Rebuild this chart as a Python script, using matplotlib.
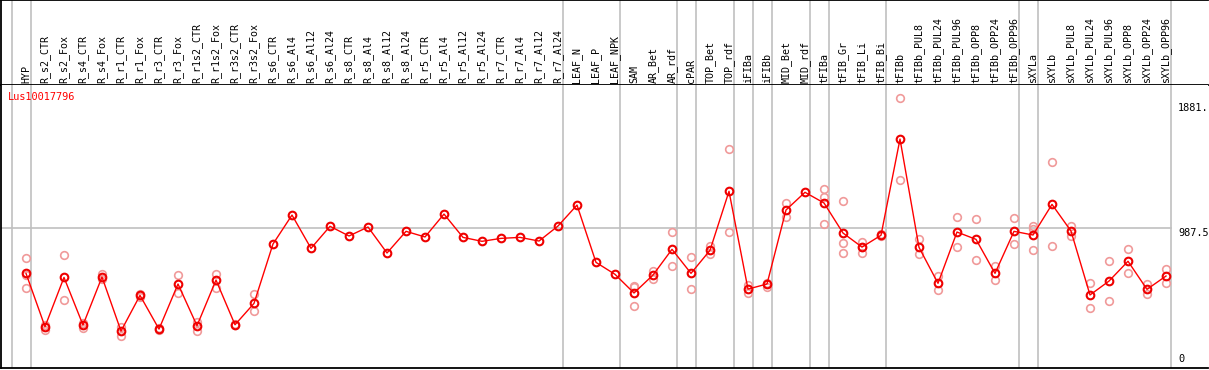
import numpy as np
import matplotlib
matplotlib.use("Agg")
import matplotlib.pyplot as plt

# sample names (one column each)
labels = ["HYP", "R_s2_CTR", "R_s2_Fox", "R_s4_CTR", "R_s4_Fox", "R_r1_CTR", "R_r1_Fox",
          "R_r3_CTR", "R_r3_Fox", "R_r1s2_CTR", "R_r1s2_Fox", "R_r3s2_CTR", "R_r3s2_Fox",
          "R_s6_CTR", "R_s6_Al4", "R_s6_Al12", "R_s6_Al24", "R_s8_CTR", "R_s8_Al4",
          "R_s8_Al12", "R_s8_Al24", "R_r5_CTR", "R_r5_Al4", "R_r5_Al12", "R_r5_Al24",
          "R_r7_CTR", "R_r7_Al4", "R_r7_Al12", "R_r7_Al24", "LEAF_N", "LEAF_P", "LEAF_NPK",
          "SAM", "AR_Bet", "AR_rdf", "cPAR", "TOP_Bet", "TOP_rdf", "iFIBa", "iFIBb",
          "MID_Bet", "MID_rdf", "tFIBa", "tFIB_Gr", "tFIB_Li", "tFIB_Bi", "tFIBb",
          "tFIBb_PUL8", "tFIBb_PUL24", "tFIBb_PUL96", "tFIBb_OPP8", "tFIBb_OPP24",
          "tFIBb_OPP96", "sXYLa", "sXYLb", "sXYLb_PUL8", "sXYLb_PUL24", "sXYLb_PUL96",
          "sXYLb_OPP8", "sXYLb_OPP24", "sXYLb_OPP96"]

# mean expression per sample
means = [667, 287, 638, 299, 641, 256, 510, 270, 591, 294, 619, 301, 453,
         876, 1082, 845, 1002, 933, 997, 812, 966, 926, 1089, 923, 895, 916, 923, 897, 1004,
         1153, 745, 660, 527, 655, 838, 667, 831, 1251, 555, 591, 1118, 1244, 1168, 954,
         854, 938, 1623, 852, 596, 961, 909, 667, 966, 940, 1158, 968, 513, 612, 753, 553, 648]

# replicate values per sample
reps = [[774, 655, 560], [299, 263], [797, 477], [311, 280], [662, 624], [287, 223],
        [520, 500], [275, 265], [653, 525], [318, 258], [662, 565], [305, 297], [517, 397],
        [], [], [], [], [], [], [], [], [], [], [], [], [], [], [], [], [], [], [],
        [579, 567, 434], [686, 627], [959, 717], [781, 553], [862, 802], [1550, 959],
        [584, 529], [600, 572], [1168, 1066], [], [1267, 1210, 1016], [1180, 883, 812],
        [892, 812, 858], [945, 930], [1913, 1329], [911, 802], [650, 548], [1066, 852],
        [1052, 762], [719, 617], [1059, 874], [1004, 980, 831], [1457, 859], [1002, 935],
        [596, 418], [755, 468], [840, 667], [589, 520], [698, 596]]

# last column of each group (0-based), -1 = before first
group_ends = [-1, 0, 28, 31, 34, 35, 37, 38, 39, 41, 42, 45, 52, 53, 60]

gene = "Lus10017796"
ytick_vals = [1881, 987.5, 0]
ytick_txt = ["1881.", "987.5", "0"]

W, H = 1209, 370
fig = plt.figure(figsize=(W / 100, H / 100), dpi=100)

xl = ((1 - 26) / 19, (1208 - 26) / 19)
ax_h = fig.add_axes([1 / W, 1 - 85 / H, 1207 / W, 85 / H])
ax = fig.add_axes([1 / W, 1 - 368 / H, 1207 / W, 283 / H])
gray = "#c0c0c0"
mono = "DejaVu Sans Mono"

for a in (ax_h, ax):
    a.set_xlim(*xl)
    a.set_xticks([])
    a.set_yticks([])
    a.spines["right"].set_visible(False)
    for s in ("left", "top", "bottom"):
        a.spines[s].set_linewidth(1.3)
ax.spines["top"].set_visible(False)
ax_h.set_ylim(0, 1)
ax.set_ylim(-7, 2008)

x = np.arange(len(labels))
sep = np.array(group_ends) + 4.5 / 19
for a in (ax_h, ax):
    for s in sep:
        a.axvline(s, color=gray, lw=1.2, zorder=0)

ax.plot([xl[0], sep[-1]], [987.5, 987.5], color=gray, lw=1.2, zorder=0)

for i, lab in enumerate(labels):
    ax_h.text(i, 0.02, lab, rotation=90, ha="center", va="bottom",
              fontsize=7.2, family=mono)

rx = [i for i, r in enumerate(reps) for _ in r]
ry = [v for r in reps for v in r]
ax.plot(rx, ry, "o", ms=5.5, mfc="none", mec="#f09a9a", mew=1.2, zorder=2)
ax.plot(x, means, "-", color="#ff0000", lw=1.0, zorder=3)
ax.plot(x, means, "o", ms=5.5, mfc="none", mec="#ee0000", mew=1.5, zorder=4)

ax.text(7 / 1207, 1 - 7 / 283, gene, transform=ax.transAxes, color="red",
        fontsize=7.4, family=mono, va="top", ha="left")
for v, t in zip(ytick_vals, ytick_txt):
    va = "bottom" if v == 0 else "top"
    off = 3 if v == 0 else 0
    ax.annotate(t, (1177 / 1207, v), xycoords=("axes fraction", "data"),
                xytext=(0, off), textcoords="offset pixels",
                fontsize=7.4, family=mono, va=va, ha="left")

fig.savefig("out.png", dpi=100)
